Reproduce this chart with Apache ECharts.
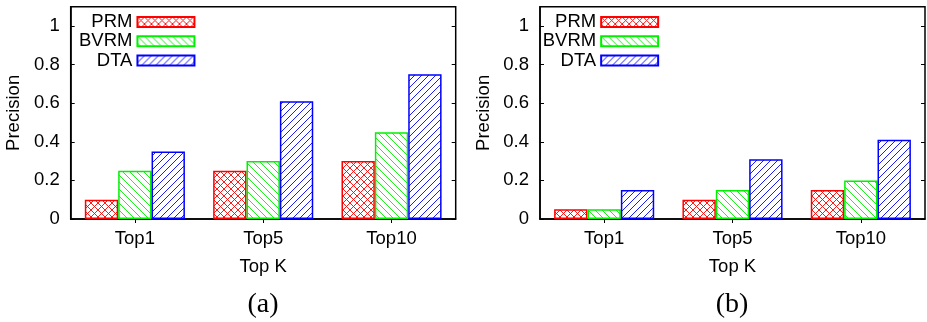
<!DOCTYPE html>
<html><head><meta charset="utf-8">
<script src="https://cdn.jsdelivr.net/npm/echarts@6/dist/echarts.min.js"></script>
<style>html,body{margin:0;padding:0;background:#fff}#c{width:927px;height:322px}</style>
</head><body><div id="c"></div>
<script>
// ---- data ----
const categories = ['Top1', 'Top5', 'Top10'];
const seriesNames = ['PRM', 'BVRM', 'DTA'];
const prmA  = [0.10, 0.25, 0.30];
const bvrmA = [0.25, 0.30, 0.45];
const dtaA  = [0.35, 0.61, 0.75];
const prmB  = [0.05, 0.10, 0.15];
const bvrmB = [0.05, 0.15, 0.20];
const dtaB  = [0.15, 0.31, 0.41];
const yMin = 0, yMax = 1.1, yInterval = 0.2;
const panelLabels = ['(a)', '(b)'];
const xName = 'Top K';
const yName = 'Precision';

// ---- styles ----
const FONT = 'Liberation Sans';
const FS = 18.5;
const colors = ['#ff0000', '#00f000', '#0000ff'];
const kinds = ['cross', 'back', 'fwd'];

function makePattern(color, kind) {
  const s = 7;
  const c = document.createElement('canvas');
  c.width = s; c.height = s;
  const g = c.getContext('2d');
  g.fillStyle = '#fff'; g.fillRect(0, 0, s, s);
  g.strokeStyle = color; g.lineWidth = 0.9;
  function line(x1, y1, x2, y2) { g.beginPath(); g.moveTo(x1, y1); g.lineTo(x2, y2); g.stroke(); }
  function fwd() { line(-1, s + 1, s + 1, -1); line(-1, 1, 1, -1); line(s - 1, s + 1, s + 1, s - 1); }
  function back() { line(-1, -1, s + 1, s + 1); line(-1, s - 1, 1, s + 1); line(s - 1, -1, s + 1, 1); }
  if (kind === 'fwd') fwd();
  else if (kind === 'back') back();
  else { fwd(); back(); }
  return { image: c, repeat: 'repeat' };
}
const patterns = colors.map((c, i) => makePattern(c, kinds[i]));

const panels = [
  { left: 70.7, data: [prmA, bvrmA, dtaA], legendLeft: 79, labelX: 263 },
  { left: 540,  data: [prmB, bvrmB, dtaB], legendLeft: 542.7, labelX: 732 }
];
const gridTop = 6.7, gridW = 385, gridH = 212.3;

const grid = [], xAxis = [], yAxis = [], series = [], legend = [], graphic = [];
panels.forEach((p, pi) => {
  grid.push({ left: p.left, top: gridTop, width: gridW, height: gridH, show: true,
    borderColor: '#000', borderWidth: 1.5, backgroundColor: 'transparent' });
  // bottom x
  xAxis.push({ type: 'category', gridIndex: pi, data: categories, position: 'bottom',
    axisLine: { show: true, lineStyle: { color: '#000', width: 1.5 } },
    axisTick: { show: false },
    axisLabel: { color: '#000', fontFamily: FONT, fontSize: FS, margin: 10 },
    name: xName, nameLocation: 'middle', nameGap: 38,
    nameTextStyle: { color: '#000', fontFamily: FONT, fontSize: FS } });
  // top x (mirror ticks)
  xAxis.push({ type: 'category', gridIndex: pi, data: categories, position: 'top',
    axisLine: { show: false },
    axisTick: { show: true, inside: true, length: 4, alignWithLabel: true, lineStyle: { color: '#000', width: 1 } },
    axisLabel: { show: false } });
  // left y
  yAxis.push({ type: 'value', gridIndex: pi, min: yMin, max: yMax, interval: yInterval, position: 'left',
    axisLine: { show: true, lineStyle: { color: '#000', width: 1.5 } },
    axisTick: { show: true, inside: true, length: 4, lineStyle: { color: '#000', width: 1 } },
    splitLine: { show: false },
    axisLabel: { color: '#000', fontFamily: FONT, fontSize: FS, margin: 11,
      formatter: v => (v > 1.0001 ? '' : String(Math.round(v * 10) / 10)) },
    name: yName, nameLocation: 'middle', nameGap: 47, nameRotate: 90,
    nameTextStyle: { color: '#000', fontFamily: FONT, fontSize: FS } });
  // right y (mirror ticks)
  yAxis.push({ type: 'value', gridIndex: pi, min: yMin, max: yMax, interval: yInterval, position: 'right',
    axisLine: { show: false },
    axisTick: { show: true, inside: true, length: 4, lineStyle: { color: '#000', width: 1 } },
    splitLine: { show: false },
    axisLabel: { show: false } });

  seriesNames.forEach((name, si) => {
    series.push({ type: 'bar', name, xAxisIndex: pi * 2, yAxisIndex: pi * 2,
      data: p.data[si], barGap: '0%', barCategoryGap: '22%',
      itemStyle: { color: patterns[si], borderColor: colors[si], borderWidth: 1.5 },
      emphasis: { disabled: true }, animation: false });
  });

  legend.push({ orient: 'vertical', left: p.legendLeft, top: 12.3, align: 'right', padding: 0,
    itemWidth: 57, itemHeight: 10, itemGap: 0, selectedMode: false, icon: 'rect',
    data: seriesNames.map(n => ({ name: n, icon: 'rect' })),
    textStyle: { color: '#000', fontFamily: FONT, fontSize: FS, lineHeight: 19.3 } });

  graphic.push({ type: 'text', x: p.labelX, y: 305,
    style: { text: panelLabels[pi], font: '28px "Liberation Serif"', fill: '#000',
      textAlign: 'center', textVerticalAlign: 'middle' } });
});

const chart = echarts.init(document.getElementById('c'), null, { renderer: 'canvas' });
chart.setOption({ animation: false, grid, xAxis, yAxis, series, legend, graphic });
</script>
</body></html>
